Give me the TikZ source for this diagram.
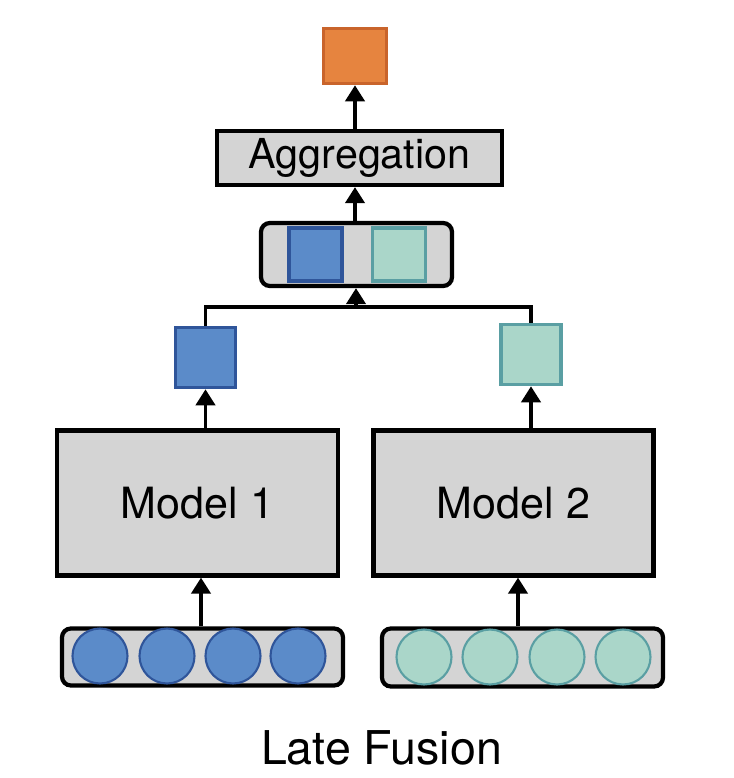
\documentclass[tikz,border=0pt]{standalone}
\usepackage{fontspec}
\setmainfont{TeX Gyre Heros}
\usetikzlibrary{arrows.meta,positioning}
\definecolor{boxgray}{HTML}{D4D4D4}
\definecolor{blfill}{HTML}{5B8BC9}
\definecolor{bldraw}{HTML}{2F559A}
\definecolor{tlfill}{HTML}{AAD6C9}
\definecolor{tldraw}{HTML}{5A9FA3}
\definecolor{orfill}{HTML}{E6843F}
\definecolor{ordraw}{HTML}{C9642B}
\tikzset{
  graybox/.style={draw=black, line width=2.4pt, fill=boxgray, inner sep=0pt},
  vecbox/.style={graybox, rounded corners=5pt},
  bluesq/.style={draw=bldraw, fill=blfill, line width=2pt, minimum width=#1, minimum height=#1, inner sep=0pt},
  tealsq/.style={draw=tldraw, fill=tlfill, line width=2pt, minimum width=#1, minimum height=#1, inner sep=0pt},
  arr/.style={line width=2.2pt, -{Triangle[width=0.38cm,length=0.32cm]}}
}
\begin{document}
\begin{tikzpicture}[x=0.02cm, y=-0.02cm]
\useasboundingbox (0,0) rectangle (734,778);
% output and aggregation
\node[draw=ordraw, fill=orfill, line width=2pt, minimum width=1.26cm, minimum height=1.1cm] (out) at (355,56) {};
\node[graybox, minimum width=5.7cm, minimum height=1.08cm, font=\fontsize{23.5}{28}\selectfont] (agg) at (359.5,158) {Aggregation};
% concatenated vector
\node[vecbox, minimum width=3.82cm, minimum height=1.26cm] (cat) at (356.5,254.5) {};
\node[bluesq=1.06cm] (catb) at (315.5,254.5) {};
\node[tealsq=1.06cm] (catt) at (399,254.5) {};
% model outputs
\node[bluesq=1.2cm] (outb) at (205.5,357.5) {};
\node[tealsq=1.2cm] (outt) at (531,354.5) {};
% models
\node[graybox, minimum width=5.62cm, minimum height=2.9cm, font=\fontsize{24.5}{28}\selectfont] (m1) at (197.5,503) {Model 1};
\node[graybox, minimum width=5.6cm, minimum height=2.9cm, font=\fontsize{24.5}{28}\selectfont] (m2) at (513.5,503) {Model 2};
% inputs
\node[vecbox, minimum width=5.62cm, minimum height=1.14cm] (in1) at (202.5,657) {};
\node[vecbox, minimum width=5.62cm, minimum height=1.16cm] (in2) at (522.5,657.5) {};
\foreach \i/\x in {1/100,2/167,3/233,4/298}
  \node[circle, draw=bldraw, fill=blfill, line width=1.2pt, minimum size=1.1cm, inner sep=0pt] (a\i) at (\x,656) {};
\foreach \i/\x in {1/424,2/490,3/557,4/623}
  \node[circle, draw=tldraw, fill=tlfill, line width=1.2pt, minimum size=1.1cm, inner sep=0pt] (c\i) at (\x,657) {};

% arrows
\draw[arr] (in1.north -| 201,0) -- (m1.south -| 201,0);
\draw[arr] (in2.north -| 518,0) -- (m2.south -| 518,0);
\draw[arr] (outb.south |- m1.north) -- (outb.south);
\draw[arr] (outt.south |- m2.north) -- (outt.south);
\coordinate (join) at (356,307);
\draw[line width=2.2pt] (outb.north) |- (join) -| (outt.north);
\draw[arr] (join) -- (cat.south -| join);
\draw[arr] (cat.north -| out.south) -- (agg.south -| out.south);
\draw[arr] (agg.north -| out.south) -- (out.south);

\node[font=\fontsize{26.5}{30}\selectfont] (title) at (381.5,748) {Late Fusion};
\end{tikzpicture}
\end{document}
